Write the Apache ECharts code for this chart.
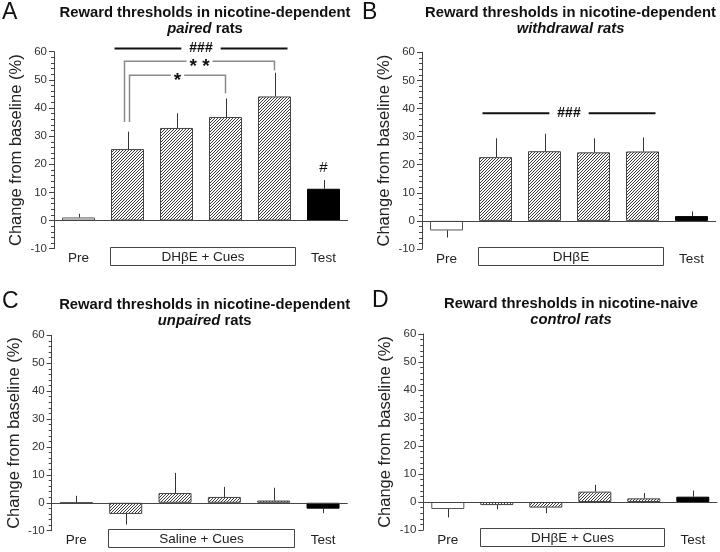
<!DOCTYPE html>
<html><head><meta charset="utf-8">
<script src="https://cdn.jsdelivr.net/npm/echarts@6/dist/echarts.min.js"></script>
<style>html,body{margin:0;padding:0;background:#fff}#c{width:720px;height:552px}</style>
</head><body><div id="c"></div><script>
// ---------- data ----------
const categories = ['Pre', 'Session 1', 'Session 2', 'Session 3', 'Session 4', 'Test'];
const shownLabels = ['Pre', 'Test'];
const yMin = -10, yMax = 60, yStep = 10;
const yAxisName = 'Change from baseline (%)';

const meansA = [1.1, 25.4, 32.9, 36.8, 44.1, 11.3];
const semA   = [1.3, 6.2, 5.2, 6.6, 8.4, 3.1];
const meansB = [-3.4, 22.7, 24.8, 24.4, 24.7, 1.7];
const semB   = [2.5, 6.7, 6.2, 5.0, 5.0, 1.7];
const meansC = [0.2, -4.0, 3.5, 2.1, 0.8, -2.1];
const semC   = [2.3, 3.8, 7.2, 3.6, 4.6, 1.6];
const meansD = [-2.5, -1.1, -2.0, 3.7, 1.3, 1.9];
const semD   = [3.0, 1.5, 2.0, 2.4, 1.9, 2.2];

const boxLabels = ['DH\u03B2E + Cues', 'DH\u03B2E', 'Saline + Cues', 'DH\u03B2E + Cues'];
const boxRange = [1, 4];          // first and last treatment session (category indices)
const panelLetters = ['A', 'B', 'C', 'D'];
const titleLine1 = ['Reward thresholds in nicotine-dependent', 'Reward thresholds in nicotine-dependent',
                    'Reward thresholds in nicotine-dependent', 'Reward thresholds in nicotine-naive'];
const titleItalic = ['paired', 'withdrawal rats', 'unpaired', 'control rats'];
const titleRest   = [' rats', '', ' rats', ''];

// significance annotations (data units)
const hashA = { from: 1, to: 4, y: 61.1, label: '###' };
const hashB = { from: 1, to: 4, y: 38.3, label: '###' };
const bracketsA = [
  { from: 1, to: 4, y: 56.6, yFrom: 35.0, yTo: 53.4, label: '* *' },
  { from: 1, to: 3, y: 51.6, yFrom: 35.0, yTo: 45.2, label: '*' }
];
const singleA = { at: 5, y: 18.6, label: '#' };

// ---------- styling / layout ----------
const FONT = 'Liberation Sans, Arial, Helvetica, sans-serif';
const grids = [
  { left: 54, top: 51.7, width: 294, height: 197 },
  { left: 422, top: 52.3, width: 294, height: 196.7 },
  { left: 51.7, top: 335.3, width: 296, height: 195.4 },
  { left: 423.3, top: 334, width: 294, height: 196 }
];
const titlePos = [[205, 5.3], [570.5, 4.7], [204.7, 297], [571, 296]];
const letterPos = [[2, 13], [362, 13], [2, 302], [372, 301]];
const bracketOffsets = [-3, 2];

function hatchCanvas() {
  const c = document.createElement('canvas');
  c.width = 3; c.height = 3;
  const g = c.getContext('2d');
  g.fillStyle = '#fff'; g.fillRect(0, 0, 3, 3);
  g.fillStyle = '#3a3a3a';
  g.fillRect(2, 0, 1, 1); g.fillRect(1, 1, 1, 1); g.fillRect(0, 2, 1, 1);
  return c;
}
const hatch = { image: hatchCanvas(), repeat: 'repeat' };

function barStyle(i) {
  if (i === 0) return { color: '#fff', borderColor: '#555', borderWidth: 1 };
  if (i === categories.length - 1) return { color: '#000', borderColor: '#000', borderWidth: 1 };
  return { color: hatch, borderColor: '#444', borderWidth: 1 };
}

const allMeans = [meansA, meansB, meansC, meansD];
const allSem = [semA, semB, semC, semD];

const xAxes = [], yAxes = [], series = [];
grids.forEach((g, k) => {
  xAxes.push({
    type: 'category', gridIndex: k, data: categories, position: 'bottom',
    axisLine: { show: false, onZero: false }, axisTick: { show: false },
    axisLabel: { interval: 0, margin: 3, fontSize: 13.5, color: '#222', fontFamily: FONT,
      formatter: v => shownLabels.includes(v) ? v : '' }
  });
  yAxes.push({
    type: 'value', gridIndex: k, min: yMin, max: yMax, interval: yStep,
    axisLine: { show: true, lineStyle: { color: '#444', width: 1 } },
    axisTick: { show: true, length: 5, lineStyle: { color: '#444' } },
    minorTick: { show: true, splitNumber: 5, length: 3, lineStyle: { color: '#444' } },
    splitLine: { show: false },
    axisLabel: { fontSize: 11.5, color: '#333', margin: 7, fontFamily: FONT },
    name: yAxisName, nameLocation: 'middle', nameGap: 29,
    nameTextStyle: { fontSize: 16.5, color: '#222', fontFamily: FONT }
  });
  const means = allMeans[k], sem = allSem[k];
  series.push({
    type: 'bar', xAxisIndex: k, yAxisIndex: k, barWidth: 33, animation: false,
    data: means.map((v, i) => ({ value: v, itemStyle: barStyle(i) })),
    markLine: { silent: true, symbol: ['none', 'none'], label: { show: false },
      lineStyle: { color: '#444', width: 1, type: 'solid' }, data: [{ yAxis: 0 }], animation: false }
  });
  series.push({
    type: 'custom', xAxisIndex: k, yAxisIndex: k, animation: false, z: 3,
    data: means.map((m, i) => [i, m, m + (m >= 0 ? 1 : -1) * sem[i]]),
    renderItem: (params, api) => {
      const p1 = api.coord([api.value(0), api.value(1)]);
      const p2 = api.coord([api.value(0), api.value(2)]);
      const x = Math.round(p1[0]) + 0.5;
      return { type: 'line', shape: { x1: x, y1: p1[1], x2: x, y2: p2[1] },
        style: { stroke: '#333', lineWidth: 1 } };
    }
  });
  series.push({
    type: 'custom', xAxisIndex: k, yAxisIndex: k, animation: false, clip: false, z: 3,
    data: [[boxRange[0], yMin]],
    renderItem: (params, api) => {
      const bw = api.size([1, 0])[0];
      const l = Math.round(api.coord([boxRange[0], yMin])[0] - 0.35 * bw) + 0.5;
      const r = Math.round(api.coord([boxRange[1], yMin])[0] + 0.42 * bw) + 0.5;
      const yb = Math.round(api.coord([boxRange[0], yMin])[1]) + 0.5;
      return { type: 'group', children: [
        { type: 'rect', shape: { x: l, y: yb - 2, width: r - l, height: 18 },
          style: { fill: '#fff', stroke: '#444', lineWidth: 1 } },
        { type: 'text', style: { text: boxLabels[k], x: (l + r) / 2, y: yb + 7.5, align: 'center',
          verticalAlign: 'middle', font: '13.5px ' + FONT, fill: '#222' } }
      ] };
    }
  });
});

function sigRender(hash, brackets, single) {
  return (params, api) => {
    const X = i => api.coord([i, 0])[0];
    const Y = v => api.coord([0, v])[1];
    const ch = [];
    if (hash) {
      const y = Y(hash.y), x1 = X(hash.from) - 13, x2 = X(hash.to) + 13;
      ch.push({ type: 'line', shape: { x1, y1: y, x2, y2: y }, style: { stroke: '#111', lineWidth: 2 } });
      ch.push({ type: 'text', style: { text: hash.label, x: (x1 + x2) / 2, y: y, align: 'center',
        verticalAlign: 'middle', font: 'bold 14px ' + FONT, fill: '#111', backgroundColor: '#fff', padding: [2, 8] } });
    }
    (brackets || []).forEach((b, j) => {
      const xl = X(b.from) + bracketOffsets[j], xr = X(b.to), y = Y(b.y);
      ch.push({ type: 'polyline', shape: { points: [[xl, Y(b.yFrom)], [xl, y], [xr, y], [xr, Y(b.yTo)]] },
        style: { stroke: '#8a8a8a', lineWidth: 1.5, fill: null } });
      ch.push({ type: 'text', style: { text: b.label, x: (xl + xr) / 2, y: y + 5, align: 'center',
        verticalAlign: 'middle', font: 'bold 19px ' + FONT, fill: '#111', backgroundColor: '#fff', padding: [0, 3] } });
    });
    if (single) {
      ch.push({ type: 'text', style: { text: single.label, x: X(single.at), y: Y(single.y), align: 'center',
        verticalAlign: 'middle', font: '15px ' + FONT, fill: '#111' } });
    }
    return { type: 'group', children: ch };
  };
}
series.push({ type: 'custom', xAxisIndex: 0, yAxisIndex: 0, clip: false, animation: false, z: 4,
  data: [[0, 0]], renderItem: sigRender(hashA, bracketsA, singleA) });
series.push({ type: 'custom', xAxisIndex: 1, yAxisIndex: 1, clip: false, animation: false, z: 4,
  data: [[0, 0]], renderItem: sigRender(hashB, null, null) });

const graphics = [];
panelLetters.forEach((L, k) => {
  graphics.push({ type: 'text', left: letterPos[k][0], top: letterPos[k][1] - 12,
    style: { text: L, font: '23px ' + FONT, fill: '#111' } });
  graphics.push({ type: 'text', x: titlePos[k][0], y: titlePos[k][1],
    style: {
      text: '{b|' + titleLine1[k] + '}\n{bi|' + titleItalic[k] + '}' + (titleRest[k] ? '{b|' + titleRest[k] + '}' : ''),
      align: 'center', verticalAlign: 'top',
      rich: {
        b: { font: 'bold 14.8px ' + FONT, fill: '#111', lineHeight: 16, align: 'center' },
        bi: { font: 'italic bold 14.8px ' + FONT, fill: '#111', lineHeight: 16, align: 'center' }
      }
    } });
});

const chart = echarts.init(document.getElementById('c'), null, { renderer: 'canvas' });
chart.setOption({
  animation: false,
  backgroundColor: '#fff',
  textStyle: { fontFamily: FONT },
  grid: grids.map(g => Object.assign({ containLabel: false }, g)),
  xAxis: xAxes, yAxis: yAxes, series: series, graphic: graphics
});
</script></body></html>
